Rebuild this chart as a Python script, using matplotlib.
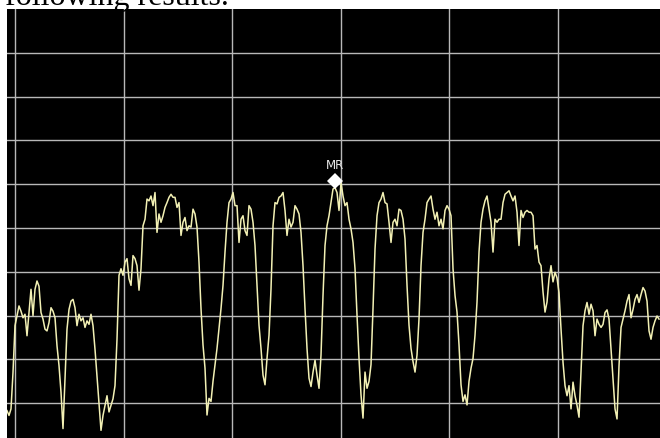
import numpy as np
import matplotlib.pyplot as plt

# sweep levels in dBm, evenly spaced across the visible span
levels_dbm = [
    -91.7, -92.8, -91.3, -83.0, -72.3, -70.0, -67.8, -69.0, -70.5, -69.7,
    -74.6, -69.3, -64.0, -70.0, -64.0, -62.1, -63.3, -69.3, -70.8, -73.1,
    -73.5, -71.6, -68.2, -69.0, -70.5, -76.9, -81.4, -87.5, -95.8, -84.5,
    -73.1, -68.6, -66.7, -66.3, -68.2, -72.3, -69.7, -71.2, -70.5, -72.7,
    -71.2, -72.0, -69.7, -72.3, -77.7, -83.8, -89.8, -96.2, -92.8, -90.5,
    -88.3, -92.0, -90.5, -89.0, -86.0, -75.4,
    -60.8, -59.3, -60.8, -57.8, -57.0, -61.6, -63.1, -56.3, -57.0, -58.6,
    -64.2, -59.3, -49.5, -48.0, -43.4, -43.8, -42.7, -44.9, -41.9, -51.0,
    -46.8, -48.7, -47.2, -45.3, -44.2, -43.0, -42.3, -43.0, -43.0, -45.3,
    -44.2, -51.7, -48.7, -47.6, -50.6, -49.5, -49.8, -45.7, -46.8, -49.8,
    -57.8, -68.4, -76.7, -82.0, -92.7, -88.9, -89.6, -85.0, -81.2, -77.5,
    -73.0, -68.4, -63.1, -55.5, -48.7, -44.2,
    -43.4, -41.9, -44.9, -44.9, -53.3, -48.0, -47.2, -50.6, -51.7, -44.9,
    -45.7, -48.7, -54.0, -63.1, -72.2, -77.5, -83.6, -85.8, -79.8, -74.5,
    -63.9, -49.5, -44.2, -44.5, -43.0, -42.7, -41.9, -46.0, -51.7, -48.0,
    -49.8, -48.7, -44.9, -45.7, -46.8, -51.0, -58.6, -68.4, -77.5, -84.3,
    -86.2, -82.9, -80.2, -83.6, -86.6, -79.0, -65.4, -54.0, -49.5, -47.2,
    -44.2, -41.1, -40.8, -41.9,
    -46.0, -39.6, -42.7, -44.9, -44.2, -48.0, -50.2, -53.3, -59.3, -69.9,
    -79.8, -88.1, -93.4, -82.9, -86.6, -85.0, -81.2, -68.4, -54.8, -47.2,
    -44.2, -43.4, -41.9, -44.2, -44.5, -48.7, -53.3, -48.7, -48.0, -49.5,
    -45.7, -46.0, -48.0, -52.5, -63.1, -72.2, -77.5, -80.5, -82.9, -79.0,
    -70.7, -58.6, -51.0, -48.0, -44.2, -43.4, -42.7, -45.7, -48.0, -46.4,
    -49.5, -48.0, -50.2, -46.0, -44.9,
    -45.7, -47.2, -59.3, -65.4, -69.2, -76.7, -85.8, -89.6, -88.1, -90.4,
    -85.0, -82.0, -79.8, -74.5, -66.9, -55.5, -48.7, -45.7, -43.8, -42.7,
    -45.7, -48.7, -55.5, -48.0, -48.7, -48.0, -48.0, -44.2, -42.3, -41.9,
    -41.5, -42.7, -43.8, -42.7, -46.4, -54.0, -46.0, -47.6, -46.4, -46.0,
    -46.4, -46.4, -47.2, -54.8, -54.0, -57.8, -58.6, -64.6, -69.2, -66.9,
    -61.6, -58.6, -62.3, -60.1,
    -61.4, -64.8, -73.1, -80.7, -86.0, -88.3, -86.0, -91.3, -85.2, -88.3,
    -90.5, -93.2, -83.0, -72.3, -68.9, -67.0, -69.7, -67.4, -68.9, -74.6,
    -70.8, -72.0, -72.7, -72.0, -69.3, -68.7, -70.8, -77.7, -84.5, -91.3,
    -93.6, -81.4, -72.7, -70.8, -68.9, -66.7, -65.2, -70.5, -68.6, -66.3,
    -65.2, -67.0, -65.2, -63.6, -64.4, -66.7, -73.5, -75.4, -72.7, -71.2,
    -70.1, -70.8,
]

# sweep span (MHz, one division per MHz)
sweep_start = -0.078
sweep_stop = 5.931
freq_mhz = np.linspace(sweep_start, sweep_stop, len(levels_dbm))

# marker "MR"
marker_label = 'MR'
marker_freq = 2.945
marker_level = -39.3

ref_level = 0
db_per_div = 10

fig = plt.figure(figsize=(6.6, 4.39), dpi=100)
fig.patch.set_facecolor('white')

# line of document text above the screen capture, clipped by the page edge
fig.text(5 / 660, 1 - 5.5 / 439, 'following results.', family='Liberation Serif',
         fontsize=23, color='black', ha='left', va='baseline')

ax = fig.add_axes([7 / 660, 0, 653 / 660, 429 / 439])
ax.set_facecolor('black')
ax.set_xlim(-0.078, 5.94)
ax.set_ylim(-97.95, ref_level)

for k in range(0, 7):
    ax.axvline(k, color='#b8b8b8', lw=1.0, zorder=1)
for k in range(1, 10):
    ax.axhline(ref_level - k * db_per_div, color='#b8b8b8', lw=1.0, zorder=1)

ax.plot(freq_mhz, levels_dbm, color='#f2f0b4', lw=1.1, zorder=3)

ax.plot(marker_freq, marker_level, marker='D', ms=8.5, color='white',
        markeredgewidth=0, zorder=4)
ax.annotate(marker_label, (marker_freq, marker_level), xytext=(0, 7),
            textcoords='offset points', ha='center', va='bottom',
            fontsize=8.5, color='#e8e8e8', zorder=4)

ax.set_xticks([])
ax.set_yticks([])
for s in ax.spines.values():
    s.set_visible(False)

fig.savefig('out.png', dpi=100, facecolor='white')
